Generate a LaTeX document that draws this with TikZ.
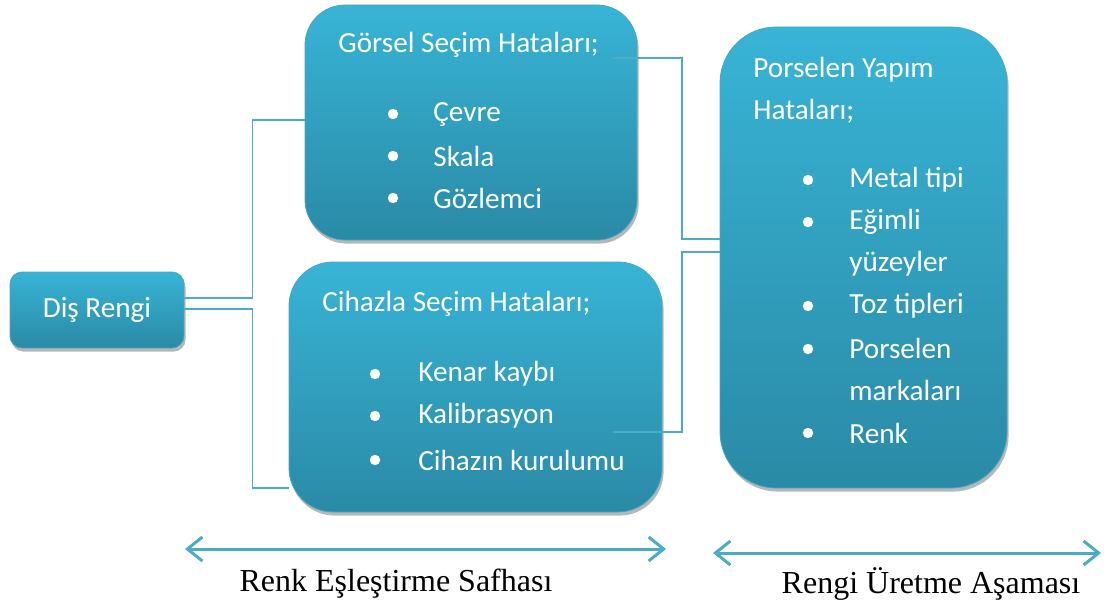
\documentclass[tikz,border=0pt]{standalone}
\usepackage{fontspec}
\setmainfont{Carlito}
\newfontfamily\timesfont{Liberation Serif}
\usepackage{tikz}
\usetikzlibrary{arrows.meta,shadows}

\definecolor{boxtop}{RGB}{56,180,214}
\definecolor{boxbot}{RGB}{42,138,166}
\definecolor{boxline}{RGB}{70,168,198}
\definecolor{linkcol}{RGB}{75,172,198}

\tikzset{
    box/.style={rectangle, inner sep=0pt, top color=boxtop, bottom color=boxbot,
        draw=boxline, line width=0.4pt,
        drop shadow={shadow xshift=0.8pt, shadow yshift=-1.8pt, fill=black!40, opacity=0.7}},
    txt/.style={text=white, font=\fontsize{14.6}{21}\selectfont, inner sep=0pt, align=left},
    item/.style={txt, anchor=west},
    link/.style={draw=linkcol, line width=0.9pt},
    span/.style={draw=linkcol, line width=1.5pt,
        {Straight Barb[length=7.5pt,width=12pt]}-{Straight Barb[length=7.5pt,width=12pt]}},
}

\begin{document}
\begin{tikzpicture}[x=0.5pt, y=-0.5pt]

    \useasboundingbox (0,0) rectangle (1107,610);

    % Kutular
    \node[box, minimum width=87pt, minimum height=38pt, rounded corners=6pt]
        (dis) at (97,310) {};
    \node[box, minimum width=166pt, minimum height=117.5pt, rounded corners=20pt]
        (gorsel) at (471,122.5) {};
    \node[box, minimum width=186.5pt, minimum height=125pt, rounded corners=22pt]
        (cihaz) at (475.5,387) {};
    \node[box, minimum width=143.5pt, minimum height=230.5pt, rounded corners=28pt]
        (porselen) at (863.5,257.5) {};

    % Dış Rengi
    \node[txt] (distxt) at (dis) {Diş Rengi};

    % Görsel Seçim Hataları
    \node[item] (gbaslik) at (338,45) {Görsel Seçim Hataları;};
    \fill[white] (393,114) circle (2.6pt);
    \fill[white] (393,156) circle (2.6pt);
    \fill[white] (393,198) circle (2.6pt);
    \node[item] (gcevre) at (433,114) {Çevre};
    \node[item] (gskala) at (433,156) {Skala};
    \node[item] (ggoz) at (433,198) {Gözlemci};

    % Cihazla Seçim Hataları
    \node[item] (cbaslik) at (322,304) {Cihazla Seçim Hataları;};
    \fill[white] (375,374) circle (2.6pt);
    \fill[white] (375,416) circle (2.6pt);
    \fill[white] (375,460) circle (2.6pt);
    \node[item] (ckenar) at (418,374) {Kenar kaybı};
    \node[item] (ckalib) at (418,416) {Kalibrasyon};
    \node[item] (ckurul) at (418,460) {Cihazın kurulumu};

    % Porselen Yapım Hataları
    \node[item] (pbaslik) at (753,90) {Porselen Yapım\\Hataları;};
    \fill[white] (808,180) circle (2.6pt);
    \fill[white] (808,222) circle (2.6pt);
    \fill[white] (808,306) circle (2.6pt);
    \fill[white] (808,349) circle (2.6pt);
    \fill[white] (808,433) circle (2.6pt);
    \node[item] (pmetal) at (849,180) {Metal tipi};
    \node[item] (pegim) at (849,243) {Eğimli\\yüzeyler};
    \node[item] (ptoz) at (849,306) {Toz tipleri};
    \node[item] (pmarka) at (849,369.5) {Porselen\\markaları};
    \node[item] (prenk) at (849,433) {Renk};

    % Bağlantılar
    \coordinate (gout) at (613,58);
    \coordinate (cout) at (613,432);
    \draw[link] ([yshift=6pt]dis.east) -- ++(34pt,0) |- ([yshift=1.25pt]gorsel.west);
    \draw[link] ([yshift=0.5pt]dis.east) -- ++(34pt,0) |- ([yshift=-50.5pt]cihaz.west);
    \draw[link] (gout) -- ++(34.5pt,0) |- ([yshift=9.25pt]porselen.west);
    \draw[link] (cout) -- ++(34.5pt,0) |- ([yshift=2.75pt]porselen.west);

    % Safhalar
    \coordinate (s1a) at (185,549);
    \coordinate (s1b) at (666,549);
    \coordinate (s2a) at (713,553);
    \coordinate (s2b) at (1101,553);
    \draw[span] (s1a) -- (s1b);
    \draw[span] (s2a) -- (s2b);
    \node[font=\timesfont\fontsize{16}{19}\selectfont] (renk) at (396,584) {Renk Eşleştirme Safhası};
    \node[font=\timesfont\fontsize{16}{19}\selectfont] (uret) at (931,584) {Rengi Üretme Aşaması};

\end{tikzpicture}
\end{document}
